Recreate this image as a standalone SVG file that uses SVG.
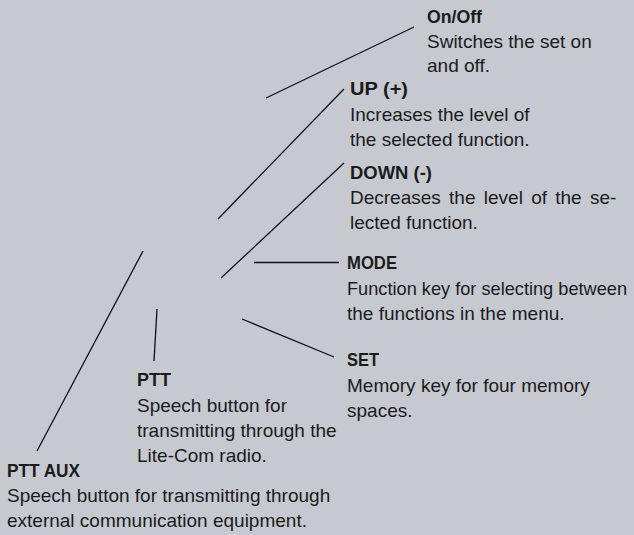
<svg xmlns="http://www.w3.org/2000/svg" width="634" height="535" viewBox="0 0 634 535">
<style>
.t{font-family:"Liberation Sans",Arial,sans-serif;font-size:19px;fill:#1b1b1b}
.b{font-weight:bold}
.c line{stroke:#111;stroke-width:1.3;fill:none}
</style>
<rect width="634" height="535" fill="#c6c9d0"/>
<g class="c" id="connectors">
<line x1="266" y1="98" x2="414" y2="27"/>
<line x1="218" y1="219" x2="344" y2="89"/>
<line x1="221" y1="278" x2="344" y2="163"/>
<line x1="254" y1="262.5" x2="339" y2="262.5"/>
<line x1="242" y1="319" x2="334" y2="357"/>
<line x1="157" y1="309" x2="154" y2="361"/>
<line x1="143" y1="251" x2="37" y2="451"/>
</g>
<g id="onoff" class="t">
<text x="427" y="23" class="b" textLength="55" lengthAdjust="spacingAndGlyphs">On/Off</text>
<text x="427" y="47.5">Switches the set on</text>
<text x="427" y="72">and off.</text>
</g>
<g id="up" class="t">
<text x="350" y="95" class="b" textLength="58" lengthAdjust="spacingAndGlyphs">UP (+)</text>
<text x="350" y="120.5">Increases the level of</text>
<text x="350" y="145.5">the selected function.</text>
</g>
<g id="down" class="t">
<text x="350" y="178.5" class="b" textLength="82" lengthAdjust="spacingAndGlyphs">DOWN (-)</text>
<text x="350" y="204" word-spacing="3">Decreases the level of the se-</text>
<text x="350" y="229">lected function.</text>
</g>
<g id="mode" class="t">
<text x="347" y="268.5" class="b" textLength="50" lengthAdjust="spacingAndGlyphs">MODE</text>
<text x="347" y="294.5" font-size="18.2">Function key for selecting between</text>
<text x="347" y="319.5">the functions in the menu.</text>
</g>
<g id="set" class="t">
<text x="347" y="366" class="b" textLength="32" lengthAdjust="spacingAndGlyphs">SET</text>
<text x="347" y="391.5">Memory key for four memory</text>
<text x="347" y="416.5">spaces.</text>
</g>
<g id="ptt" class="t">
<text x="137" y="386" class="b" textLength="34" lengthAdjust="spacingAndGlyphs">PTT</text>
<text x="137" y="411.5">Speech button for</text>
<text x="137" y="437">transmitting through the</text>
<text x="137" y="462">Lite-Com radio.</text>
</g>
<g id="pttaux" class="t">
<text x="7" y="476.5" class="b" textLength="73" lengthAdjust="spacingAndGlyphs">PTT AUX</text>
<text x="7" y="502">Speech button for transmitting through</text>
<text x="7" y="527">external communication equipment.</text>
</g>
</svg>
